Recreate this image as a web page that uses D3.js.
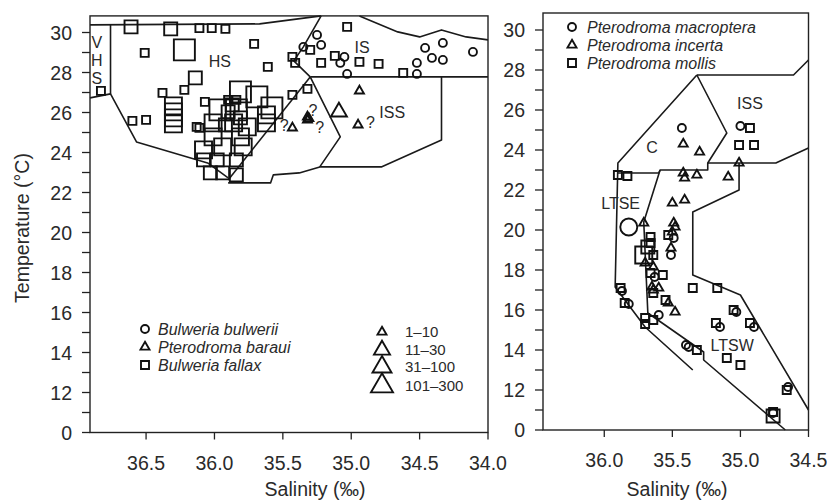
<!DOCTYPE html>
<html>
<head>
<meta charset="utf-8">
<script src="https://cdn.jsdelivr.net/npm/d3@7"></script>
<style>
body { margin: 0; background: #fff; }
text { font-family: "Liberation Sans", Arial, sans-serif; fill: #2a2a2a; }
</style>
</head>
<body>
<svg id="chart" width="827" height="501"></svg>
<script>
// ---- axis values ----
const tempTicks = [10, 12, 14, 16, 18, 20, 22, 24, 26, 28, 30];
const tempTickLabels = ["0", "12", "14", "16", "18", "20", "22", "24", "26", "28", "30"];
const tempMinor = [11, 13, 15, 17, 19, 21, 23, 25, 27, 29];
const leftSalTicks = [36.5, 36.0, 35.5, 35.0, 34.5, 34.0];
const rightSalTicks = [36.0, 35.5, 35.0, 34.5];

// ---- left panel: [salinity, temperature, size class] ----
const fallax = [
  [36.61, 30.28, 2], [36.32, 30.18, 2], [36.11, 30.22, 1], [36.02, 30.22, 1], [35.92, 30.18, 1],
  [36.22, 29.13, 4], [36.51, 28.98, 1], [35.71, 29.43, 1], [35.61, 28.28, 1], [36.14, 27.73, 2],
  [36.22, 27.13, 1], [36.38, 26.98, 1], [36.83, 27.08, 1],
  [36.30, 26.33, 3], [36.30, 26.03, 3], [36.30, 25.73, 3], [36.30, 25.43, 3],
  [36.60, 25.58, 1], [36.50, 25.63, 1], [36.07, 26.53, 1], [36.13, 25.28, 1],
  [35.81, 27.03, 4], [35.69, 26.78, 4], [35.96, 26.13, 4], [35.84, 26.13, 4], [35.62, 25.88, 3],
  [36.01, 25.48, 3], [35.86, 25.48, 3], [35.76, 25.28, 3], [35.62, 25.48, 3], [36.11, 25.23, 1],
  [36.01, 24.78, 3], [35.81, 24.78, 3], [36.08, 24.13, 3], [35.94, 24.28, 3], [35.79, 24.28, 3],
  [36.08, 23.63, 2], [35.98, 23.63, 2], [35.84, 23.63, 2], [36.03, 22.98, 2], [35.94, 22.98, 2],
  [35.84, 22.88, 2], [35.90, 26.63, 1], [35.87, 26.38, 2], [35.84, 26.63, 1], [35.90, 26.03, 2],
  [35.81, 25.73, 2], [35.92, 25.38, 2], [35.58, 26.23, 4],
  [35.43, 26.88, 1], [35.41, 28.48, 1], [35.32, 27.18, 1], [35.03, 30.28, 1], [35.30, 29.13, 1],
  [35.43, 28.78, 1], [35.22, 28.48, 1], [35.12, 28.83, 1], [34.94, 28.53, 1], [34.80, 28.43, 1],
  [34.62, 27.98, 1]
];
const bulwerii = [
  [35.25, 29.88, 1], [35.22, 29.38, 1], [35.35, 29.28, 1], [35.05, 28.78, 1], [35.08, 28.48, 1],
  [35.03, 27.93, 1], [34.52, 28.48, 1], [34.52, 27.93, 1], [34.46, 29.23, 1], [34.41, 28.73, 1],
  [34.33, 29.48, 1], [34.33, 28.63, 1], [34.11, 29.03, 1]
];
const baraui = [
  [34.94, 27.08, 1], [35.09, 26.03, 2], [34.95, 25.38, 1], [35.43, 25.23, 1],
  [35.32, 25.63, 1], [35.32, 25.78, 1], [35.31, 25.70, 1]
];
const baraQuery = [[35.49, 25.38], [35.28, 26.13], [35.23, 25.28], [34.86, 25.53]];

// ---- right panel ----
const macroptera = [
  [35.43, 25.10, 1], [35.00, 25.20, 1], [35.82, 20.15, 3], [35.49, 19.60, 1], [35.51, 18.75, 1],
  [35.63, 17.65, 1], [35.87, 16.95, 1], [35.82, 16.30, 1], [35.60, 15.75, 1], [35.03, 15.90, 1],
  [35.15, 15.15, 1], [34.90, 15.15, 1], [35.40, 14.25, 1], [35.38, 14.15, 1], [34.65, 12.15, 1],
  [34.76, 10.85, 1]
];
const incerta = [
  [35.42, 24.30, 1], [35.30, 23.90, 1], [35.01, 23.35, 1], [35.42, 22.85, 1], [35.41, 22.60, 1],
  [35.32, 22.75, 1], [35.09, 22.65, 1], [35.50, 21.35, 1], [35.41, 21.50, 1], [35.71, 20.35, 1],
  [35.49, 20.35, 1], [35.48, 20.15, 1], [35.50, 19.90, 1], [35.51, 19.10, 1], [35.64, 18.15, 1],
  [35.65, 17.15, 1], [35.60, 17.10, 1], [35.64, 17.00, 1], [35.53, 16.35, 1], [35.48, 15.90, 1],
  [35.70, 18.35, 1]
];
const mollis = [
  [34.93, 25.10, 1], [35.01, 24.25, 1], [34.90, 24.25, 1], [35.90, 22.75, 1], [35.83, 22.70, 1],
  [35.53, 19.75, 1], [35.66, 19.65, 1], [35.66, 19.35, 1], [35.68, 19.15, 2], [35.71, 18.75, 3],
  [35.64, 18.75, 1], [35.66, 17.85, 1], [35.57, 17.75, 1], [35.64, 16.85, 1], [35.88, 17.10, 1],
  [35.85, 16.35, 1], [35.55, 16.50, 1], [35.64, 15.50, 1], [35.70, 15.60, 1], [35.70, 15.30, 1],
  [35.35, 17.10, 1], [35.17, 17.10, 1], [35.05, 16.00, 1], [35.18, 15.35, 1], [34.93, 15.35, 1],
  [35.32, 14.00, 1], [35.10, 13.60, 1], [35.00, 13.25, 1], [34.66, 12.00, 1], [34.76, 10.70, 2],
  [34.76, 10.90, 1]
];

// ---- water mass boundaries [salinity, temperature] ----
const leftBounds = [
  [[36.91, 30.38], [35.67, 30.43], [35.22, 30.83]],
  [[36.76, 30.38], [36.76, 26.93]],
  [[36.91, 26.73], [36.76, 26.93], [36.57, 24.53], [36.05, 23.48], [35.90, 22.73]],
  [[35.90, 22.48], [35.59, 22.48], [35.57, 22.88], [35.38, 22.98], [35.23, 23.28]],
  [[35.90, 22.63], [35.30, 27.78]],
  [[35.22, 30.83], [35.35, 29.28], [35.42, 28.58], [35.30, 27.78]],
  [[35.30, 27.78], [35.08, 24.78], [35.23, 23.28], [34.78, 23.28], [34.34, 24.63], [34.34, 27.78]],
  [[35.30, 27.78], [34.0, 27.78]],
  [[34.94, 30.83], [34.66, 30.03], [34.50, 29.78], [34.34, 30.13], [34.16, 29.78], [34.0, 29.63]]
];
const rightBounds = [
  [[35.32, 27.75], [34.61, 27.75], [34.5, 28.5]],
  [[35.32, 27.75], [35.90, 23.35], [35.92, 17.15], [35.70, 15.15], [35.35, 13.0]],
  [[35.32, 27.75], [35.10, 24.85], [35.24, 23.35]],
  [[35.90, 22.85], [35.60, 22.85], [35.59, 23.0], [35.24, 23.0], [35.24, 23.35], [34.74, 23.35], [34.5, 24.1]],
  [[35.59, 23.0], [35.71, 20.4], [35.68, 15.85], [35.27, 13.9], [35.27, 13.5], [34.67, 10.0]],
  [[35.01, 23.35], [35.01, 22.0], [35.35, 20.9], [35.35, 17.75], [35.0, 16.75], [34.5, 11.0]]
];

const leftRegions = [
  ["V", 36.86, 29.53], ["H", 36.86, 28.63], ["S", 36.86, 27.73],
  ["HS", 35.96, 28.58], ["IS", 34.92, 29.28], ["ISS", 34.70, 26.03]
];
const rightRegions = [
  ["ISS", 34.93, 26.35], ["C", 35.65, 24.15], ["LTSE", 35.88, 21.35], ["LTSW", 35.06, 14.25]
];

const leftSpecies = ["Bulweria bulwerii", "Pterodroma baraui", "Bulweria fallax"];
const rightSpecies = ["Pterodroma macroptera", "Pterodroma incerta", "Pterodroma mollis"];
const sizeLabels = ["1–10", "11–30", "31–100", "101–300"];

// ---- drawing ----
const svg = d3.select("#chart");
const sizeW = d3.scaleOrdinal().domain([1, 2, 3, 4]).range([8, 13, 17, 21]);
const triW = d3.scaleOrdinal().domain([1, 2, 3, 4]).range([9, 16, 19, 22]);

function symbolPath(type, w) {
  if (type === "circle") return d3.symbol(d3.symbolCircle, Math.PI * (w / 2) * (w / 2))();
  if (type === "square") return d3.symbol(d3.symbolSquare, w * w)();
  return d3.symbol(d3.symbolTriangle, Math.sqrt(3) / 4 * w * w)();
}

function drawPanel(cfg) {
  const x = cfg.x, y = cfg.y;
  const g = svg.append("g");
  const [x0, x1] = x.range();
  const yTop = y(cfg.tTop), yBot = y(10);

  // ticks
  g.append("g").selectAll("line")
    .data(tempTicks.concat(tempMinor))
    .join("line")
      .attr("x1", x0 - 8).attr("x2", x0)
      .attr("y1", d => y(d)).attr("y2", d => y(d))
      .attr("stroke", "#222").attr("stroke-width", 1.3);
  g.append("g").selectAll("text")
    .data(tempTicks)
    .join("text")
      .attr("x", x0 - 18).attr("y", d => y(d))
      .attr("dy", "0.36em")
      .attr("text-anchor", "end")
      .attr("font-size", 19.5)
      .text((d, i) => tempTickLabels[i]);
  g.append("g").selectAll("line")
    .data(cfg.salTicks)
    .join("line")
      .attr("x1", d => x(d)).attr("x2", d => x(d))
      .attr("y1", yBot).attr("y2", yBot + 7)
      .attr("stroke", "#222").attr("stroke-width", 1.3);
  g.append("g").selectAll("text")
    .data(cfg.salTicks)
    .join("text")
      .attr("x", d => x(d)).attr("y", yBot + 30)
      .attr("dy", "0.36em")
      .attr("text-anchor", "middle")
      .attr("font-size", 19.5)
      .text(d => d.toFixed(1));
  g.append("text")
    .attr("x", cfg.xLabelX).attr("y", 489)
    .attr("dy", "0.36em")
    .attr("text-anchor", "middle")
    .attr("font-size", 19.5)
    .text("Salinity (‰)");

  // boundaries
  const line = d3.line().x(d => x(d[0])).y(d => y(d[1]));
  g.append("g").selectAll("path")
    .data(cfg.bounds)
    .join("path")
      .attr("d", line)
      .attr("fill", "none")
      .attr("stroke", "#1a1a1a")
      .attr("stroke-width", 1.6)
      .attr("stroke-linejoin", "round");

  // region labels
  g.append("g").selectAll("text")
    .data(cfg.regions)
    .join("text")
      .attr("x", d => x(d[1])).attr("y", d => y(d[2]))
      .attr("dy", "0.36em")
      .attr("text-anchor", "middle")
      .attr("font-size", 16)
      .text(d => d[0]);

  // points
  cfg.series.forEach(s => {
    g.append("g").selectAll("path")
      .data(s.values)
      .join("path")
        .attr("transform", d => `translate(${x(d[0])},${y(d[1])})`)
        .attr("d", d => symbolPath(s.type, s.type === "triangle" ? triW(d[2]) : sizeW(d[2])))
        .attr("fill", "none")
        .attr("stroke", "#111")
        .attr("stroke-width", 1.9);
  });

  // frame
  g.append("rect")
    .attr("x", x0).attr("y", yTop)
    .attr("width", x1 - x0).attr("height", yBot - yTop)
    .attr("fill", "none")
    .attr("stroke", "#222")
    .attr("stroke-width", 1.4);
  return g;
}

function drawLegend(g, names, mx, tx, ys) {
  const types = ["circle", "triangle", "square"];
  names.forEach((n, i) => {
    g.append("path")
      .attr("transform", `translate(${mx},${ys[i]})`)
      .attr("d", symbolPath(types[i], types[i] === "triangle" ? 9 : 8))
      .attr("fill", "none").attr("stroke", "#111").attr("stroke-width", 1.9);
    g.append("text")
      .attr("x", tx).attr("y", ys[i]).attr("dy", "0.36em")
      .attr("font-size", 16).attr("font-style", "italic")
      .text(n);
  });
}

const leftX = d3.scaleLinear().domain([36.91, 34.0]).range([90, 488]);
const leftY = d3.scaleLinear().domain([10, 30]).range([432.5, 32.5]);
const gl = drawPanel({
  x: leftX, y: leftY, tTop: 30.83, salTicks: leftSalTicks, xLabelX: 315,
  bounds: leftBounds, regions: leftRegions,
  series: [
    {type: "square", values: fallax},
    {type: "circle", values: bulwerii},
    {type: "triangle", values: baraui}
  ]
});
gl.append("g").selectAll("text")
  .data(baraQuery)
  .join("text")
    .attr("x", d => leftX(d[0])).attr("y", d => leftY(d[1]))
    .attr("dy", "0.36em").attr("text-anchor", "middle")
    .attr("font-size", 16)
    .text("?");
drawLegend(gl, leftSpecies, 145, 158, [329, 347, 365]);
sizeLabels.forEach((lab, i) => {
  const yy = [332, 350, 367, 386][i];
  gl.append("path")
    .attr("transform", `translate(382,${yy})`)
    .attr("d", symbolPath("triangle", triW(i + 1)))
    .attr("fill", "none").attr("stroke", "#111").attr("stroke-width", 1.9);
  gl.append("text")
    .attr("x", 405).attr("y", yy).attr("dy", "0.36em")
    .attr("font-size", 15)
    .text(lab);
});

const rightX = d3.scaleLinear().domain([36.45, 34.5]).range([543, 808.5]);
const rightY = d3.scaleLinear().domain([10, 30]).range([430, 30]);
const gr = drawPanel({
  x: rightX, y: rightY, tTop: 30.85, salTicks: rightSalTicks, xLabelX: 677,
  bounds: rightBounds, regions: rightRegions,
  series: [
    {type: "square", values: mollis},
    {type: "circle", values: macroptera},
    {type: "triangle", values: incerta}
  ]
});
drawLegend(gr, rightSpecies, 572, 587, [27, 45, 63]);

svg.append("text")
  .attr("transform", "translate(22,228) rotate(-90)")
  .attr("dy", "0.36em")
  .attr("text-anchor", "middle")
  .attr("font-size", 19.5)
  .text("Temperature (°C)");
</script>
</body>
</html>
